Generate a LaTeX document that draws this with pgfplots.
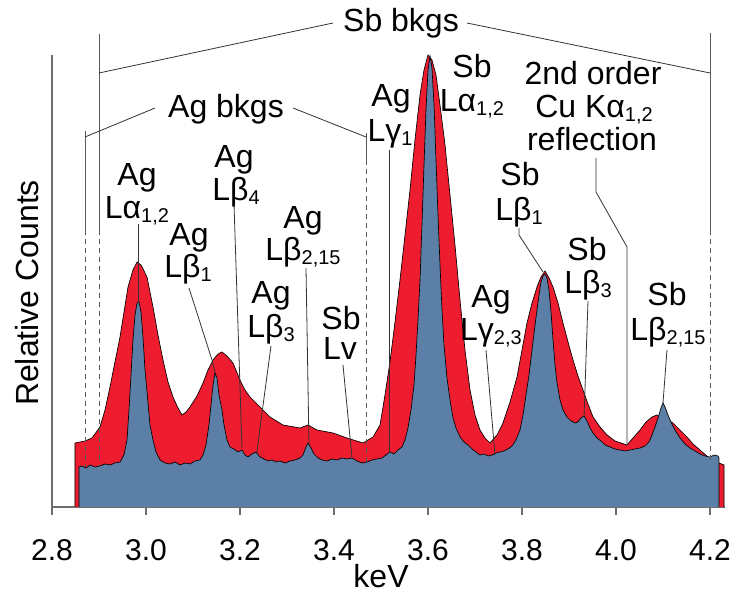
\documentclass[border=0pt]{standalone}
\usepackage{pgfplots}
\pgfplotsset{compat=1.18}
\usepackage{fontspec}
\setmainfont{Liberation Sans}
\definecolor{edsred}{RGB}{237,28,47}
\definecolor{wdsblue}{RGB}{91,127,166}
\definecolor{axgray}{RGB}{110,110,110}
\newcommand\sub[1]{\raisebox{-3pt}{\fontsize{15}{15}\selectfont #1}}
\begin{document}
\begin{tikzpicture}[font=\fontsize{24}{26}\selectfont]
\begin{axis}[
  scale only axis, width=504.75pt, height=339pt,
  xmin=2.8, xmax=4.23191, ymin=0, ymax=452,
  axis x line=bottom, axis y line=left,
  axis line style={-, axgray, line width=1pt},
  xtick={2.8,3.0,3.2,3.4,3.6,3.8,4.0,4.2},
  xticklabels={2.8,3.0,3.2,3.4,3.6,3.8,4.0,4.2},
  ytick=\empty,
  tick align=outside, major tick length=6pt,
  tick style={axgray, line width=1pt},
  xticklabel style={font=\fontsize{22.5}{24}\selectfont, anchor=base, inner sep=0pt, yshift=-34.5pt},
  xlabel={keV}, ylabel={Relative Counts},
  xlabel style={at={(axis description cs:0.4889,-0.177)}, anchor=base, inner sep=0pt},
  ylabel style={at={(axis description cs:-0.0208,0.4735)}, anchor=base, inner sep=0pt},
  clip=false,
]
% broad spectrum (red)
\addplot[fill=edsred, draw=black, line width=0.5pt] coordinates {
(2.8489,0) (2.8489,64) (2.8702,66) (2.8851,69) (2.9021,80) (2.9128,97) (2.9234,120)
(2.9340,145) (2.9447,170) (2.9532,195) (2.9617,220) (2.9723,237) (2.9809,245) (2.9894,242)
(3.0021,230) (3.0149,200) (3.0255,172) (3.0362,147) (3.0468,125) (3.0574,110) (3.0681,99)
(3.0766,92) (3.0851,95) (3.0936,100) (3.1085,111) (3.1213,124) (3.1319,137) (3.1426,147)
(3.1532,153) (3.1617,155) (3.1723,151) (3.1851,144) (3.2000,127) (3.2106,117) (3.2213,110)
(3.2426,100) (3.2638,90) (3.2915,82) (3.3277,79) (3.3447,82) (3.3638,77) (3.3979,74)
(3.4277,69) (3.4617,64) (3.4830,70) (3.4979,82) (3.5085,112) (3.5191,145) (3.5298,185)
(3.5404,227) (3.5511,272) (3.5617,317) (3.5723,367) (3.5830,412) (3.5915,437) (3.6000,452)
(3.6085,447) (3.6170,432) (3.6255,402) (3.6362,362) (3.6468,312) (3.6574,262) (3.6681,207)
(3.6787,157) (3.6894,117) (3.7000,92) (3.7106,77) (3.7213,69) (3.7319,64) (3.7468,72)
(3.7596,84) (3.7745,105) (3.7894,130) (3.8000,157) (3.8106,184) (3.8213,204) (3.8319,220)
(3.8404,230) (3.8489,236) (3.8574,229) (3.8660,220) (3.8766,204) (3.8872,184) (3.8979,165)
(3.9085,147) (3.9191,131) (3.9298,117) (3.9404,103) (3.9511,90) (3.9660,80) (3.9809,72)
(3.9979,66) (4.0234,62) (4.0362,69) (4.0511,77) (4.0638,85) (4.0766,90) (4.0872,92)
(4.1000,89) (4.1106,87) (4.1213,84) (4.1362,77) (4.1511,70) (4.1638,63) (4.1787,57)
(4.1957,50) (4.2043,47) (4.2191,44) (4.2298,42) (4.2298,0)
};
% high-resolution spectrum (blue)
\addplot[fill=wdsblue, draw=black, line width=0.5pt] coordinates {
(2.8574,0) (2.8574,40) (2.8638,41) (2.8723,39) (2.8809,42) (2.8915,40) (2.9021,41)
(2.9128,43) (2.9234,42) (2.9340,44) (2.9447,45) (2.9532,52) (2.9596,67) (2.9638,97)
(2.9681,132) (2.9723,167) (2.9766,192) (2.9809,204) (2.9851,205) (2.9894,195) (2.9936,170)
(2.9979,137) (3.0043,104) (3.0085,82) (3.0149,67) (3.0213,55) (3.0298,47) (3.0404,44)
(3.0511,43) (3.0617,45) (3.0723,42) (3.0830,44) (3.0936,43) (3.1043,46) (3.1149,47)
(3.1213,52) (3.1277,62) (3.1340,82) (3.1383,102) (3.1426,122) (3.1468,134) (3.1511,129)
(3.1553,112) (3.1617,97) (3.1660,82) (3.1723,67) (3.1787,60) (3.1872,58) (3.1957,55)
(3.2043,57) (3.2106,52) (3.2170,50) (3.2255,53) (3.2340,55) (3.2426,50) (3.2511,48)
(3.2596,46) (3.2681,47) (3.2766,45) (3.2851,46) (3.2957,44) (3.3064,46) (3.3170,47)
(3.3277,49) (3.3340,52) (3.3404,60) (3.3447,64) (3.3511,59) (3.3574,53) (3.3660,49)
(3.3745,47) (3.3851,46) (3.3957,48) (3.4064,47) (3.4170,49) (3.4277,48) (3.4383,49)
(3.4489,46) (3.4596,44) (3.4702,45) (3.4809,47) (3.4915,48) (3.5021,49) (3.5106,52)
(3.5191,55) (3.5277,53) (3.5362,57) (3.5447,60) (3.5511,67) (3.5574,79) (3.5638,97)
(3.5702,122) (3.5745,152) (3.5787,187) (3.5830,227) (3.5872,282) (3.5915,342) (3.5957,397)
(3.6000,437) (3.6043,451) (3.6085,439) (3.6128,402) (3.6170,347) (3.6213,292) (3.6255,242)
(3.6298,197) (3.6340,162) (3.6404,129) (3.6468,107) (3.6532,89) (3.6596,79) (3.6681,70)
(3.6766,65) (3.6851,62) (3.6936,58) (3.7021,55) (3.7106,52) (3.7191,53) (3.7277,51)
(3.7362,52) (3.7447,54) (3.7532,55) (3.7617,56) (3.7702,58) (3.7787,61) (3.7872,67)
(3.7957,77) (3.8021,92) (3.8085,112) (3.8149,132) (3.8213,157) (3.8277,182) (3.8319,197)
(3.8362,212) (3.8404,225) (3.8447,231) (3.8489,233) (3.8532,229) (3.8574,217) (3.8617,195)
(3.8660,167) (3.8702,142) (3.8745,124) (3.8809,107) (3.8872,97) (3.8957,90) (3.9043,86)
(3.9128,84) (3.9191,85) (3.9255,89) (3.9319,91) (3.9383,86) (3.9447,79) (3.9511,74)
(3.9596,69) (3.9681,66) (3.9766,62) (3.9872,60) (3.9979,58) (4.0085,57) (4.0191,56)
(4.0298,57) (4.0404,58) (4.0511,59) (4.0617,61) (4.0702,65) (4.0766,72) (4.0830,80)
(4.0894,89) (4.0957,99) (4.1000,104) (4.1043,100) (4.1106,92) (4.1170,85) (4.1255,77)
(4.1362,69) (4.1468,63) (4.1574,59) (4.1681,56) (4.1787,53) (4.1894,51) (4.2000,50)
(4.2085,52) (4.2170,51) (4.2191,49) (4.2191,0)
};
\coordinate (P0) at (axis cs:2.689362,507);
\end{axis}
\begin{scope}[shift={(P0)}, x=0.75pt, y=-0.75pt]
  \tikzset{lead/.style={draw=black!80, line width=0.6pt},
           bk/.style={draw=black!65, line width=0.7pt},
           lab/.style={anchor=base, inner sep=0pt}}
  % background markers
  \draw[bk] (99,34) -- (99,230);
  \draw[bk, dash pattern=on 3.75pt off 3pt] (99,230) -- (99,467);
  \draw[bk] (710,33) -- (710,230);
  \draw[bk, dash pattern=on 3.75pt off 3pt] (710,230) -- (710,460);
  \draw[bk] (85,131) -- (85,230);
  \draw[bk, dash pattern=on 3.75pt off 3pt] (85,230) -- (85,467);
  \draw[bk] (366,133) -- (366,160);
  \draw[bk, dash pattern=on 3.75pt off 3pt] (366,160) -- (366,462);
  \draw[lead] (99,73) -- (333,23);
  \draw[lead] (467,23) -- (710,73);
  \draw[lead] (85,137) -- (155,108);
  \draw[lead] (293,108) -- (366,137);
  \node[lab] at (401,32) {Sb bkgs};
  \node[lab] at (226,118) {Ag bkgs};
  % peak labels
  \node[lab] at (137,186) {Ag};
  \node[lab] at (137,219) {Lα\sub{1,2}};
  \draw[lead] (138,224) -- (138,302);
  \node[lab] at (189,246) {Ag};
  \node[lab] at (188,278) {Lβ\sub{1}};
  \draw[lead] (189,288) -- (212,360) -- (215,373);
  \node[lab] at (234,168) {Ag};
  \node[lab] at (236,201) {Lβ\sub{4}};
  \draw[lead] (234,204) -- (242,448);
  \node[lab] at (271,304) {Ag};
  \node[lab] at (271,338) {Lβ\sub{3}};
  \draw[lead] (271,346) -- (262,413) -- (257,452);
  \node[lab] at (303,229) {Ag};
  \node[lab] at (303,261) {Lβ\sub{2,15}};
  \draw[lead] (306,268) -- (309,445);
  \node[lab] at (341,330) {Sb};
  \node[lab] at (340,360) {Lv};
  \draw[lead] (343,365) -- (352,458);
  \node[lab] at (391,107) {Ag};
  \node[lab] at (390,142) {Lγ\sub{1}};
  \draw[lead] (389,150) -- (389,453);
  \node[lab] at (472,78) {Sb};
  \node[lab] at (472,112) {Lα\sub{1,2}};
  \node[lab] at (593,85) {2nd order};
  \node[lab] at (594,118) {Cu Kα\sub{1,2}};
  \node[lab] at (592,151) {reflection};
  \draw[lead] (596,158) -- (596,192) -- (627,247) -- (627,445);
  \node[lab] at (491,308) {Ag};
  \node[lab] at (491,341) {Lγ\sub{2,3}};
  \draw[lead] (486,350) -- (495,455);
  \node[lab] at (520,186) {Sb};
  \node[lab] at (519,221) {Lβ\sub{1}};
  \draw[lead] (519,228) -- (519,235) -- (543,272);
  \node[lab] at (587,261) {Sb};
  \node[lab] at (588,294) {Lβ\sub{3}};
  \draw[lead] (588,301) -- (584,418);
  \node[lab] at (667,306) {Sb};
  \node[lab] at (668,341) {Lβ\sub{2,15}};
  \draw[lead] (667,350) -- (663,403);
\end{scope}
\pgfresetboundingbox
\path (P0) rectangle ++(552pt,-444pt);
\end{tikzpicture}
\end{document}
